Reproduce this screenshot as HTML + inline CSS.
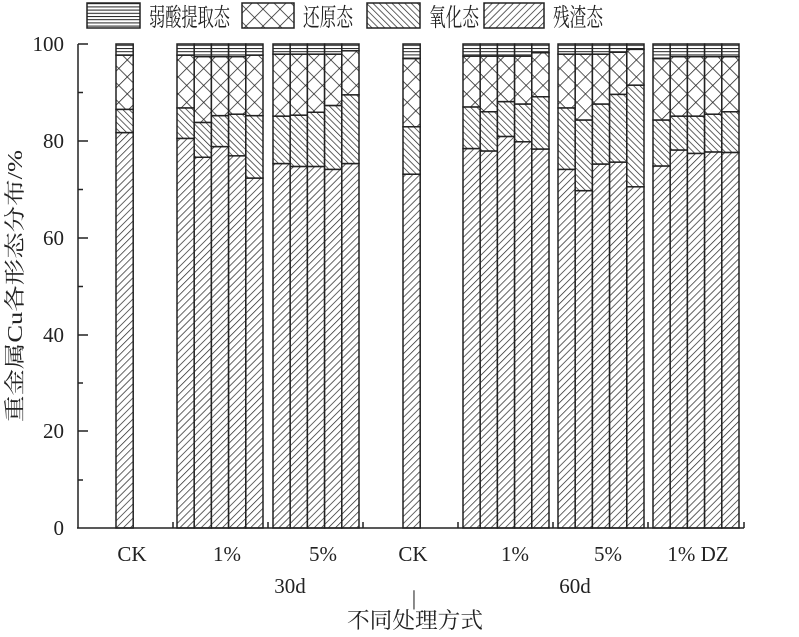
<!DOCTYPE html>
<html><head><meta charset="utf-8"><style>
body{margin:0;background:#fff}
text{font-family:"Liberation Serif","Noto Serif CJK SC","Noto Sans CJK SC",serif;fill:#222}
</style></head><body>
<svg width="799" height="632" viewBox="0 0 799 632" xmlns="http://www.w3.org/2000/svg">
<defs>
<pattern id="res" patternUnits="userSpaceOnUse" width="5" height="5" patternTransform="rotate(45)">
<rect width="5" height="5" fill="#fff"/><line x1="0" y1="0" x2="0" y2="5" stroke="#222" stroke-width="1.4"/></pattern>
<pattern id="oxi" patternUnits="userSpaceOnUse" width="4.5" height="4.5" patternTransform="rotate(-45)">
<rect width="5" height="5" fill="#fff"/><line x1="0" y1="0" x2="0" y2="5" stroke="#222" stroke-width="1.4"/></pattern>
<pattern id="red" patternUnits="userSpaceOnUse" width="12" height="12" patternTransform="rotate(45)">
<rect width="12" height="12" fill="#fff"/><line x1="0" y1="0" x2="0" y2="12" stroke="#222" stroke-width="1.5"/><line x1="0" y1="0" x2="12" y2="0" stroke="#222" stroke-width="1.5"/></pattern>
<pattern id="wk" patternUnits="userSpaceOnUse" width="10" height="3.2">
<rect width="10" height="3.2" fill="#fff"/><line x1="0" y1="0.5" x2="10" y2="0.5" stroke="#222" stroke-width="1"/></pattern>
</defs>
<g stroke="#222" stroke-width="1.5">
<rect x="87" y="3" width="53" height="25" fill="url(#wk)"/>
<rect x="242" y="3" width="52" height="25" fill="url(#red)"/>
<rect x="367" y="3" width="53" height="25" fill="url(#oxi)"/>
<rect x="484" y="3" width="60" height="25" fill="url(#res)"/>
</g>
<g font-size="25">
<text x="149" y="26" textLength="81" lengthAdjust="spacingAndGlyphs">弱酸提取态</text>
<text x="303" y="26" textLength="50" lengthAdjust="spacingAndGlyphs">还原态</text>
<text x="429" y="26" textLength="50" lengthAdjust="spacingAndGlyphs">氧化态</text>
<text x="553" y="26" textLength="50" lengthAdjust="spacingAndGlyphs">残渣态</text>
</g>
<g id="bars" stroke="#222" stroke-width="1.5"></g>
<g stroke="#222" stroke-width="1.5" fill="none">
<line x1="78" y1="44" x2="78" y2="528"/>
<line x1="77" y1="528" x2="744" y2="528"/>
<path d="M78 44h10M78 141h10M78 238h10M78 335h10M78 431h10M78 92.5h5M78 189.5h5M78 286.5h5M78 383h5M78 480h5"/>
<path d="M173 528v-6M268 528v-6M363 528v-6M458 528v-6M553 528v-6M648 528v-6M744 528v-6"/>
</g>
<g font-size="21" text-anchor="end">
<text x="64" y="51">100</text><text x="64" y="148">80</text><text x="64" y="245">60</text>
<text x="64" y="342">40</text><text x="64" y="438">20</text><text x="64" y="535">0</text>
</g>
<g font-size="21" text-anchor="middle">
<text x="132" y="561">CK</text><text x="227" y="561">1%</text><text x="323" y="561">5%</text>
<text x="413" y="561">CK</text><text x="515" y="561">1%</text><text x="608" y="561">5%</text>
<text x="698" y="561">1% DZ</text>
<text x="290" y="593">30d</text><text x="575" y="593">60d</text>
<text x="414" y="605">|</text>
</g>
<text x="347" y="628" font-size="22" textLength="136" lengthAdjust="spacingAndGlyphs">不同处理方式</text>
<text transform="translate(22,286) rotate(-90)" font-size="21" text-anchor="middle" textLength="272" lengthAdjust="spacingAndGlyphs">重金属Cu各形态分布/%</text>
</svg>
<script>
var d=[[116,81.7,86.5,97.7],
[177,80.5,86.8,97.7],[194.2,76.6,83.8,97.4],[211.4,78.8,85.2,97.4],[228.6,76.9,85.5,97.4],[245.8,72.3,85.2,97.7],
[273,75.3,85.1,97.9],[290.2,74.7,85.3,97.9],[307.4,74.7,85.9,97.9],[324.6,74.1,87.3,97.9],[341.8,75.3,89.5,98.6],
[403,73.1,82.9,97.0],
[463,78.4,87.0,97.5],[480.2,77.9,86.0,97.5],[497.4,80.9,88.1,97.5],[514.6,79.8,87.6,97.5],[531.8,78.3,89.1,98.2],
[558,74.1,86.8,97.9],[575.2,69.7,84.3,97.9],[592.4,75.2,87.6,97.9],[609.6,75.6,89.6,98.3],[626.8,70.5,91.5,98.9],
[653,74.8,84.3,97.0],[670.2,78.1,85.1,97.4],[687.4,77.4,85.1,97.4],[704.6,77.7,85.5,97.4],[721.8,77.6,86.0,97.4]];
function Y(v){return 528-v*4.84}
var g=document.getElementById('bars'),s='',w=17.2;
d.forEach(function(b){var x=b[0],v=[0,b[1],b[2],b[3],100],f=['res','oxi','red','wk'];
for(var i=0;i<4;i++){s+='<rect x="'+x+'" y="'+Y(v[i+1])+'" width="'+w+'" height="'+(Y(v[i])-Y(v[i+1]))+'" fill="url(#'+f[i]+')"/>';}});
g.innerHTML=s;
</script>
</body></html>
